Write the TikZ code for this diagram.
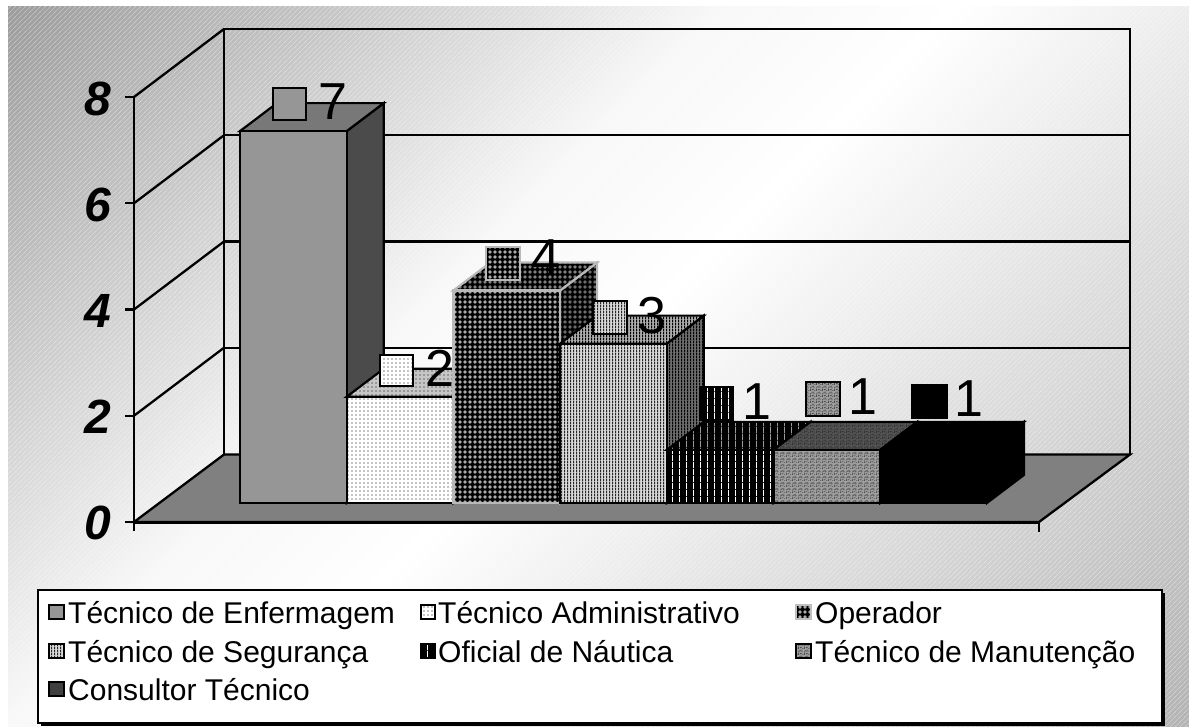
\documentclass[tikz,border=0pt]{standalone}
\usepackage{fontspec}
\setmainfont{Liberation Sans}
\usetikzlibrary{patterns}

\definecolor{bgA}{HTML}{6A6A6A}
\definecolor{bgB}{HTML}{949494}
\definecolor{gA}{HTML}{969696}
\definecolor{gAt}{HTML}{787878}
\definecolor{gAs}{HTML}{4B4B4B}
\definecolor{floorc}{HTML}{808080}
\definecolor{consult}{HTML}{404040}

\pgfdeclarehorizontalshading{bgshade}{100bp}{color(0bp)=(bgA); color(41bp)=(white!97!black); color(50bp)=(white); color(100bp)=(bgB)}

\pgfdeclarepatternformonly{bghatch}{\pgfqpoint{-1pt}{-1pt}}{\pgfqpoint{6pt}{6pt}}{\pgfqpoint{5pt}{5pt}}{%
  \pgfsetlinewidth{0.5pt}\pgfpathmoveto{\pgfqpoint{-0.5pt}{-0.5pt}}\pgfpathlineto{\pgfqpoint{5.5pt}{5.5pt}}\pgfusepath{stroke}}
\pgfdeclarepatternformonly{mydots}{\pgfqpoint{-1pt}{-1pt}}{\pgfqpoint{1pt}{1pt}}{\pgfqpoint{4pt}{4pt}}{%
  \pgfpathcircle{\pgfpointorigin}{0.6pt}\pgfusepath{fill}}
\pgfdeclarepatternformonly{bigdots}{\pgfqpoint{-2.5pt}{-2.5pt}}{\pgfqpoint{2.5pt}{2.5pt}}{\pgfqpoint{5pt}{5pt}}{%
  \pgfpathcircle{\pgfpointorigin}{1.9pt}\pgfusepath{fill}}
\pgfdeclarepatternformonly{vstripes}{\pgfpointorigin}{\pgfqpoint{3pt}{3pt}}{\pgfqpoint{3pt}{3pt}}{%
  \pgfpathrectangle{\pgfpointorigin}{\pgfqpoint{1.5pt}{3pt}}\pgfusepath{fill}}
\pgfdeclarepatternformonly{sparsevl}{\pgfpointorigin}{\pgfqpoint{7pt}{7pt}}{\pgfqpoint{7pt}{7pt}}{%
  \pgfpathrectangle{\pgfpointorigin}{\pgfqpoint{1pt}{7pt}}\pgfusepath{fill}}
\pgfdeclarepatternformonly{noise}{\pgfpointorigin}{\pgfqpoint{6pt}{6pt}}{\pgfqpoint{6pt}{6pt}}{%
  \pgfpathrectangle{\pgfqpoint{0pt}{0pt}}{\pgfqpoint{1pt}{2pt}}%
  \pgfpathrectangle{\pgfqpoint{2pt}{1pt}}{\pgfqpoint{2pt}{1pt}}%
  \pgfpathrectangle{\pgfqpoint{4pt}{3pt}}{\pgfqpoint{1pt}{2pt}}%
  \pgfpathrectangle{\pgfqpoint{1pt}{4pt}}{\pgfqpoint{2pt}{1pt}}%
  \pgfpathrectangle{\pgfqpoint{3pt}{5pt}}{\pgfqpoint{1pt}{1pt}}%
  \pgfpathrectangle{\pgfqpoint{5pt}{0pt}}{\pgfqpoint{1pt}{1pt}}%
  \pgfpathrectangle{\pgfqpoint{0pt}{3pt}}{\pgfqpoint{1pt}{1pt}}%
  \pgfusepath{fill}}

\newcommand\drawbar[6]{%
  \pgfmathsetmacro\bxa{#1}%
  \pgfmathsetmacro\bxb{#1+106.7}%
  \pgfmathsetmacro\bxc{#1+106.7+37}%
  \pgfmathsetmacro\bxd{#1+37}%
  \pgfmathsetmacro\byt{503-#2*53.125}%
  \pgfmathsetmacro\byu{503-#2*53.125-28}%
  \path[#5,draw=#6,barline] (\bxb,503) -- (\bxc,475) -- (\bxc,\byu) -- (\bxb,\byt) -- cycle;
  \path[#4,draw=#6,barline] (\bxa,\byt) -- (\bxd,\byu) -- (\bxc,\byu) -- (\bxb,\byt) -- cycle;
  \path[#3,draw=#6,barline] (\bxa,503) rectangle (\bxb,\byt);
}

\tikzset{
  axisline/.style={line width=2.3pt, black},
  barline/.style={line width=2.2pt, line join=miter},
  axlbl/.style={font=\fontsize{48}{48}\selectfont\bfseries\itshape, inner sep=0pt, anchor=east},
  vallbl/.style={font=\fontsize{52}{52}\selectfont, inner sep=0pt},
  leglbl/.style={font=\fontsize{30}{36}\selectfont, inner sep=0pt, anchor=base west},
  lblkey/.style={line width=2pt},
  legkey/.style={line width=1.2pt},
  b1f/.style={fill=gA}, b1t/.style={fill=gAt}, b1s/.style={fill=gAs},
  b2f/.style={preaction={fill=white}, pattern=mydots, pattern color=black},
  b2t/.style={preaction={fill=gray!45}, pattern=mydots, pattern color=black},
  b2s/.style={preaction={fill=gray!70}, pattern=mydots, pattern color=black},
  b3f/.style={preaction={fill=black}, pattern=bigdots, pattern color=gray!65},
  b3t/.style={preaction={fill=black}, pattern=bigdots, pattern color=gray},
  b3s/.style={preaction={fill=black}, pattern=bigdots, pattern color=gray!85!black},
  b4f/.style={preaction={fill=gray!30}, pattern=vstripes, pattern color=black!85},
  b4t/.style={preaction={fill=gray!65}, pattern=vstripes, pattern color=black},
  b4s/.style={preaction={fill=gray!85!black}, pattern=vstripes, pattern color=black},
  b5f/.style={preaction={fill=black}, pattern=sparsevl, pattern color=white},
  b5t/.style={preaction={fill=black}, pattern=sparsevl, pattern color=gray!80},
  b5s/.style={preaction={fill=black}, pattern=sparsevl, pattern color=gray},
  b6f/.style={preaction={fill=gray!75}, pattern=noise, pattern color=black!70},
  b6t/.style={preaction={fill=gray!65!black}, pattern=noise, pattern color=black!80},
  b6s/.style={preaction={fill=gray!40!black}, pattern=noise, pattern color=black},
  b7f/.style={fill=black}, b7t/.style={fill=black}, b7s/.style={fill=black},
}

\begin{document}
\begin{tikzpicture}[x=1pt,y=-1pt]
\useasboundingbox (0,0) rectangle (1189,727);
% background
\path[shading=bgshade, shading angle=-45] (8,7) rectangle (1189,727);
\path[pattern=bghatch, pattern color=white, opacity=0.35] (8,7) rectangle (1189,727);

% floor
\path[fill=floorc, draw=black, line width=2.3pt, line join=miter] (134,522) -- (1039,522) -- (1130,454.5) -- (224,454.5) -- cycle;
\draw[line width=3pt] (134,522) -- (1039,522);
\draw[axisline] (1039,522) -- (1039,532);

% back wall and grid
\draw[axisline] (224,454.5) -- (224,29) -- (1130,29) -- (1130,454.5);
\foreach \k in {1,2,3} {
  \draw[axisline] (224,{29+\k*106.25}) -- (1130,{29+\k*106.25});
}
% side wall diagonals
\foreach \k in {0,1,2,3} {
  \draw[axisline] (134,{97+\k*106.25}) -- (224,{29+\k*106.25});
}
% front axis and ticks
\draw[axisline] (134,97) -- (134,531);
\foreach \k in {0,1,2,3,4} {
  \draw[axisline] (125,{97+\k*106.25}) -- (134,{97+\k*106.25});
}
\node[axlbl] (t8) at (111,99) {8};
\node[axlbl] (t6) at (111,205) {6};
\node[axlbl] (t4) at (111,311) {4};
\node[axlbl] (t2) at (111,417) {2};
\node[axlbl] (t0) at (111,523) {0};

% bars
\drawbar{240}{7}{b1f}{b1t}{b1s}{black}
\drawbar{346.7}{2}{b2f}{b2t}{b2s}{black}
\drawbar{453.4}{4}{b3f}{b3t}{b3s}{gray!55}
\drawbar{560.1}{3}{b4f}{b4t}{b4s}{black}
\drawbar{666.8}{1}{b5f}{b5t}{b5s}{black}
\drawbar{773.5}{1}{b6f}{b6t}{b6s}{black}
\drawbar{880.2}{1}{b7f}{b7t}{b7s}{black}

% value labels
\path[lblkey, b1f, draw=black] (273,88) rectangle (306,120.5);
\node[vallbl] (v1) at (333,102) {7};
\path[lblkey, b2f, draw=black] (380,355) rectangle (413,386);
\node[vallbl] (v2) at (440,368) {2};
\path[lblkey, b3f, draw=gray!55] (486,247) rectangle (520,280);
\node[vallbl] (v3) at (546,258) {4};
\path[lblkey, b4f, draw=black] (593,301) rectangle (627,334);
\node[vallbl] (v4) at (652,316) {3};
\path[lblkey, b5f, draw=black] (700,387) rectangle (733,420);
\node[vallbl] (v5) at (757,402) {1};
\path[lblkey, b6f, draw=black] (806,382) rectangle (840,416);
\node[vallbl] (v6) at (863,397) {1};
\path[lblkey, b7f, draw=black] (912,385) rectangle (947,418);
\node[vallbl] (v7) at (969,399) {1};

% legend
\fill[black] (41,593) rectangle (1165,726);
\path[draw=black, fill=white, line width=1.8pt] (38,590) rectangle (1162,723);
\path[legkey, b1f, draw=black] (49,605) rectangle (64,619);
\node[leglbl] (l1) at (68,623) {Técnico de Enfermagem};
\path[legkey, b2f, draw=black] (421,605) rectangle (435,619);
\node[leglbl] (l2) at (438,623) {Técnico Administrativo};
\path[legkey, b3f, draw=gray!50] (796,605) rectangle (811,619);
\node[leglbl] (l3) at (815,623) {Operador};
\path[legkey, b4f, draw=black] (49,644) rectangle (64,658);
\node[leglbl] (l4) at (68,662) {Técnico de Segurança};
\path[legkey, b5f, draw=black] (421,644) rectangle (435,658);
\node[leglbl] (l5) at (438,662) {Oficial de Náutica};
\path[legkey, b6f, draw=black] (796,644) rectangle (811,658);
\node[leglbl] (l6) at (815,662) {Técnico de Manutenção};
\path[legkey, fill=consult, draw=black] (49,682) rectangle (64,696);
\node[leglbl] (l7) at (68,700) {Consultor Técnico};
\end{tikzpicture}
\end{document}
